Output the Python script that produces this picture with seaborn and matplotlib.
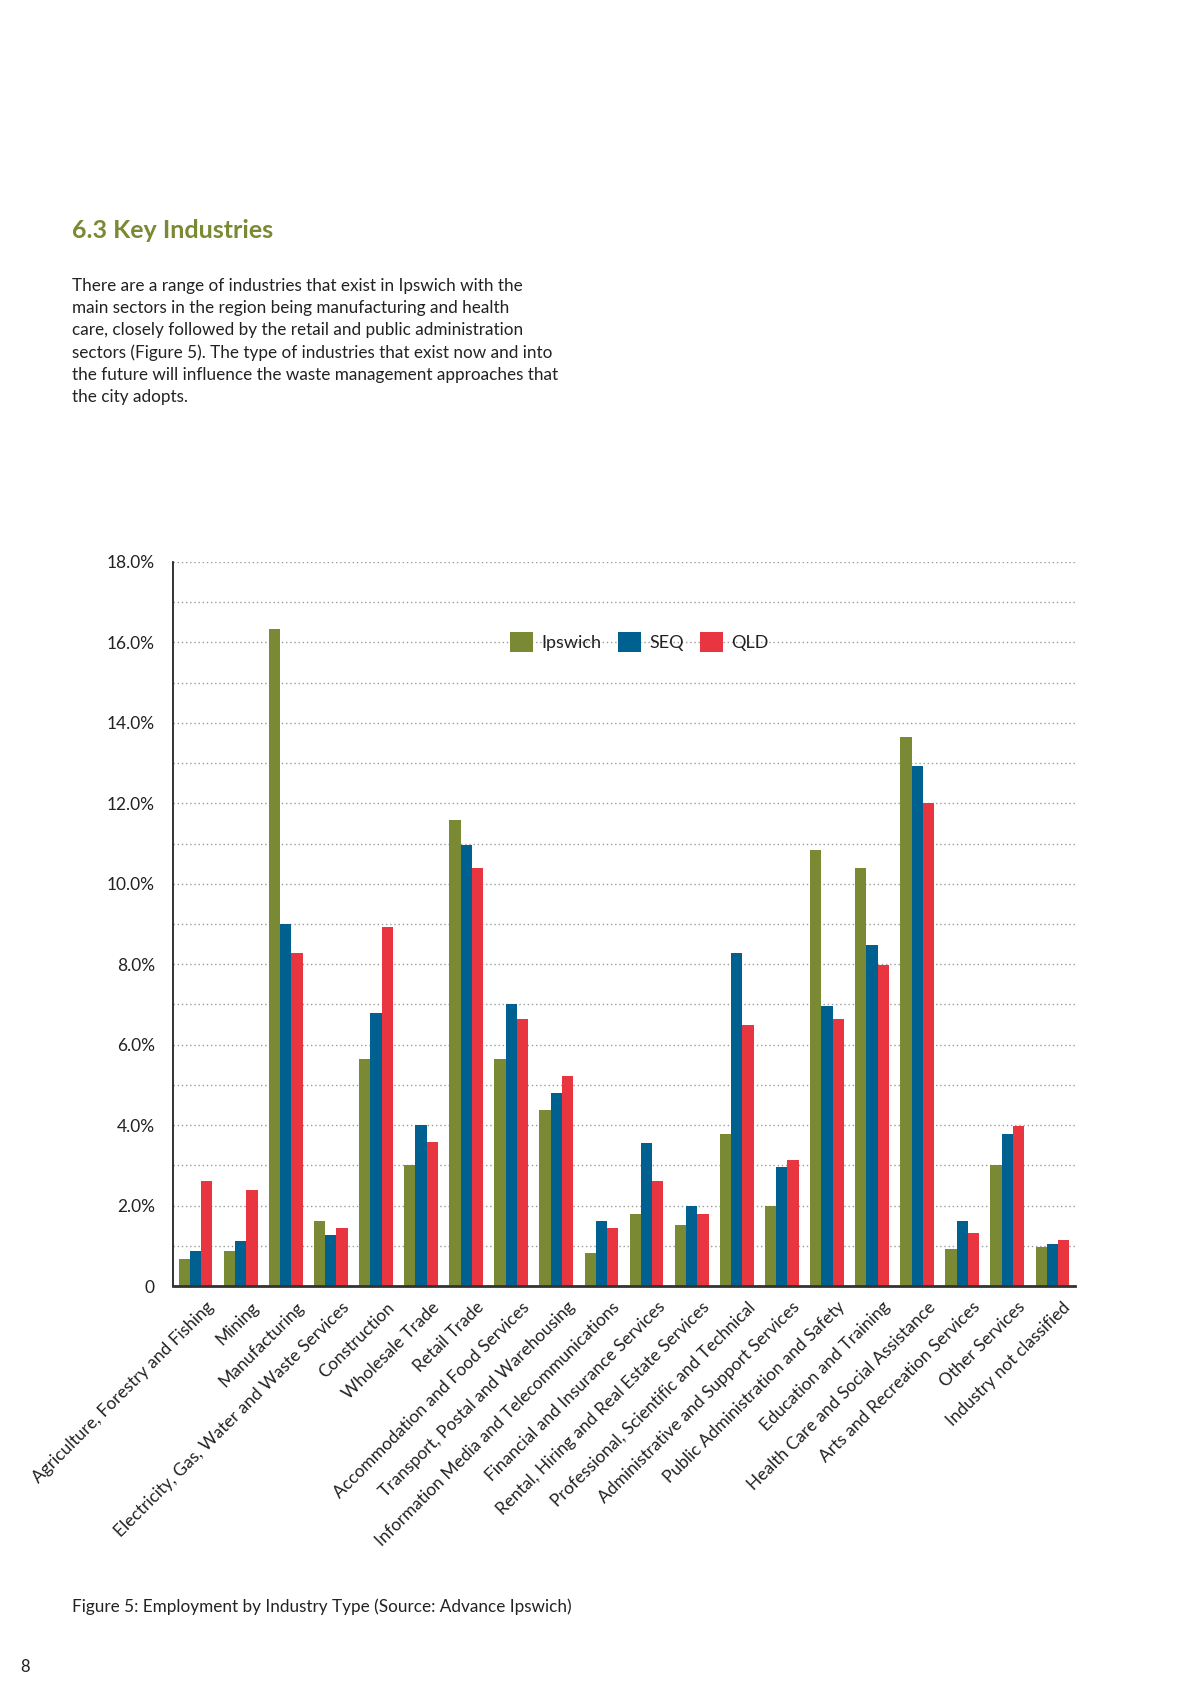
import numpy as np
import pandas as pd
import matplotlib
matplotlib.use("Agg")
import matplotlib.pyplot as plt
import matplotlib.transforms as mtransforms
import seaborn as sns

industries = [
    "Agriculture, Forestry and Fishing", "Mining", "Manufacturing",
    "Electricity, Gas, Water and Waste Services", "Construction",
    "Wholesale Trade", "Retail Trade", "Accommodation and Food Services",
    "Transport, Postal and Warehousing",
    "Information Media and Telecommunications",
    "Financial and Insurance Services",
    "Rental, Hiring and Real Estate Services",
    "Professional, Scientific and Technical",
    "Administrative and Support Services",
    "Public Administration and Safety", "Education and Training",
    "Health Care and Social Assistance", "Arts and Recreation Services",
    "Other Services", "Industry not classified",
]
ipswich = [0.67, 0.86, 16.33, 1.63, 5.65, 3.02, 11.58, 5.65, 4.38, 0.83,
           1.79, 1.52, 3.77, 2.0, 10.84, 10.39, 13.65, 0.91, 3.02, 0.96]
seq = [0.86, 1.12, 9.0, 1.28, 6.8, 4.01, 10.96, 7.0, 4.79, 1.63,
       3.56, 1.98, 8.27, 2.97, 6.96, 8.49, 12.93, 1.63, 3.77, 1.04]
qld = [2.6, 2.4, 8.29, 1.44, 8.93, 3.58, 10.39, 6.63, 5.21, 1.44,
       2.6, 1.79, 6.5, 3.13, 6.63, 7.97, 12.0, 1.31, 3.98, 1.15]
regions = ["Ipswich", "SEQ", "QLD"]
colours = ["#7a8a34", "#00608f", "#e8353f"]

df = pd.DataFrame({"Industry": industries, "Ipswich": ipswich, "SEQ": seq, "QLD": qld})
df = df.melt(id_vars="Industry", var_name="Region", value_name="Share")

sns.set_theme(style="white")
plt.rcParams["font.family"] = ["Lato", "DejaVu Sans"]

fig = plt.figure(figsize=(11.82, 16.88), dpi=100)
ax = fig.add_axes([173 / 1182, 0.2381, (1075 - 173) / 1182, 0.4290])

sns.barplot(data=df, x="Industry", y="Share", hue="Region", hue_order=regions,
            palette=colours, width=0.75, linewidth=0, saturation=1, ax=ax)

ax.set_ylim(0, 18)
ax.set_xlim(-0.5, len(industries) - 0.5)
ax.set_yticks(np.arange(0, 19, 2))
ax.set_yticklabels(["0"] + [f"{v:.1f}%" for v in np.arange(2, 19, 2)], fontsize=12.5, color="#222222")
ax.set_yticks(np.arange(0, 19, 1), minor=True)
ax.yaxis.grid(True, which="both", linestyle=(0, (1, 2)), color="#9a9a9a", linewidth=1)
ax.set_axisbelow(True)
ax.tick_params(axis="y", which="both", length=0, pad=13)

# slanted category labels, nudged right of the group centre like the original
ax.set_xticks(range(len(industries)))
ax.set_xticklabels([])
ax.tick_params(axis="x", which="major", length=0)
shift = mtransforms.ScaledTranslation(10 / 100, -13 / 100, fig.dpi_scale_trans)
for i, name in enumerate(industries):
    ax.text(i, 0, name, transform=ax.get_xaxis_transform() + shift, rotation=45,
            rotation_mode="anchor", ha="right", va="top", fontsize=12.5, color="#222222")

ax.set_xticks(np.arange(0.5, len(industries) - 1, 1), minor=True)
ax.tick_params(axis="x", which="minor", direction="in", length=12, width=1.8, color="#111111")

for side in ["top", "right"]:
    ax.spines[side].set_visible(False)
ax.spines["left"].set_color("#222222")
ax.spines["left"].set_linewidth(1.3)
ax.spines["bottom"].set_color("#333333")
ax.spines["bottom"].set_linewidth(2)
ax.set_xlabel("")
ax.set_ylabel("")

leg = ax.legend(loc="center", bbox_to_anchor=(0.517, 0.889), ncol=3, frameon=False,
                fontsize=13, handlelength=1.3, handleheight=1.3, handletextpad=0.45,
                columnspacing=0.9)
for t in leg.get_texts():
    t.set_color("#222222")

fig.text(72 / 1182, 1 - 230 / 1688, "6.3 Key Industries", fontsize=18, fontweight="bold",
         color="#7a8a34", va="center")
body = ("There are a range of industries that exist in Ipswich with the\n"
        "main sectors in the region being manufacturing and health\n"
        "care, closely followed by the retail and public administration\n"
        "sectors (Figure 5). The type of industries that exist now and into\n"
        "the future will influence the waste management approaches that\n"
        "the city adopts.")
fig.text(72 / 1182, 1 - 278 / 1688, body, fontsize=12.3, color="#222222", va="top",
         linespacing=1.46)
fig.text(72 / 1182, 1 - 1607 / 1688, "Figure 5: Employment by Industry Type (Source: Advance Ipswich)",
         fontsize=12.3, color="#222222", va="center")
fig.text(20 / 1182, 1 - 1667 / 1688, "8", fontsize=12, color="#222222", va="center")

fig.savefig("out.png", dpi=100)
